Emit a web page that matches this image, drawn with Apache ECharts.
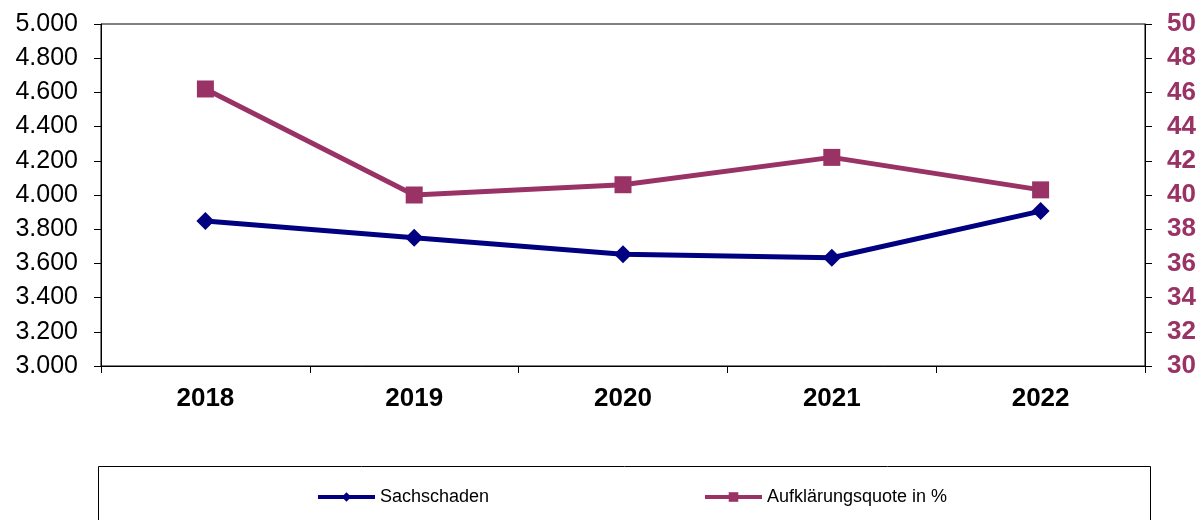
<!DOCTYPE html>
<html>
<head>
<meta charset="utf-8">
<script src="https://cdn.jsdelivr.net/npm/echarts@6/dist/echarts.min.js"></script>
<style>html,body{margin:0;padding:0;background:#fff;}#c{width:1200px;height:520px;}</style>
</head>
<body>
<div id="c"></div>
<script>
const categories = ['2018', '2019', '2020', '2021', '2022'];
const sachschaden = [3848, 3750, 3653, 3633, 3906];
const aufklaerungsquote = [46.2, 40.0, 40.6, 42.2, 40.3];
const seriesNames = ['Sachschaden', 'Aufklärungsquote in %'];

function deFmt(v) {
  const t = Math.floor(v / 1000);
  const r = Math.round(v % 1000);
  return t + '.' + String(r).padStart(3, '0');
}

const FONT = 'Liberation Sans, Arial, sans-serif';
const chart = echarts.init(document.getElementById('c'), null, {renderer: 'canvas'});
chart.setOption({
  animation: false,
  backgroundColor: '#fff',
  grid: {left: 101, right: 55, top: 24, bottom: 154, show: true, borderColor: '#000', borderWidth: 1, backgroundColor: 'transparent'},
  graphic: [{
    type: 'rect', shape: {x: 98.5, y: 466.5, width: 1052, height: 70},
    style: {fill: '#fff', stroke: '#000', lineWidth: 1}, z: -1
  }],
  legend: [{
    data: [seriesNames[0]], left: 316, top: 488, itemWidth: 57, itemHeight: 12,
    lineStyle: {width: 4},
    textStyle: {fontFamily: FONT, fontSize: 18, color: '#000'}, padding: 0
  }, {
    data: [seriesNames[1]], left: 703, top: 488, itemWidth: 57, itemHeight: 12,
    lineStyle: {width: 4},
    textStyle: {fontFamily: FONT, fontSize: 18, color: '#000'}, padding: 0
  }],
  xAxis: {
    type: 'category', data: categories, boundaryGap: true,
    axisLine: {lineStyle: {color: '#000', width: 1}},
    axisTick: {show: true, length: 7, inside: false, lineStyle: {color: '#000'}},
    axisLabel: {fontFamily: FONT, fontSize: 26, fontWeight: 'bold', color: '#000', margin: 20},
    splitLine: {show: false}
  },
  yAxis: [{
    type: 'value', min: 3000, max: 5000, interval: 200, position: 'left',
    axisLine: {show: true, lineStyle: {color: '#000', width: 1}},
    axisTick: {show: true, length: 7, lineStyle: {color: '#000'}},
    axisLabel: {fontFamily: FONT, fontSize: 25, color: '#000', margin: 23, formatter: deFmt},
    splitLine: {show: false}
  }, {
    type: 'value', min: 30, max: 50, interval: 2, position: 'right',
    axisLine: {show: true, lineStyle: {color: '#000', width: 1}},
    axisTick: {show: true, length: 7, lineStyle: {color: '#000'}},
    axisLabel: {fontFamily: FONT, fontSize: 26, fontWeight: 'bold', color: '#993366', margin: 22},
    splitLine: {show: false}
  }],
  series: [{
    name: seriesNames[0], type: 'line', yAxisIndex: 0, data: sachschaden,
    symbol: 'diamond', symbolSize: 18,
    lineStyle: {color: '#000080', width: 5},
    itemStyle: {color: '#000080'}
  }, {
    name: seriesNames[1], type: 'line', yAxisIndex: 1, data: aufklaerungsquote,
    symbol: 'rect', symbolSize: 17,
    lineStyle: {color: '#993366', width: 5},
    itemStyle: {color: '#993366'}
  }]
});
</script>
</body>
</html>
